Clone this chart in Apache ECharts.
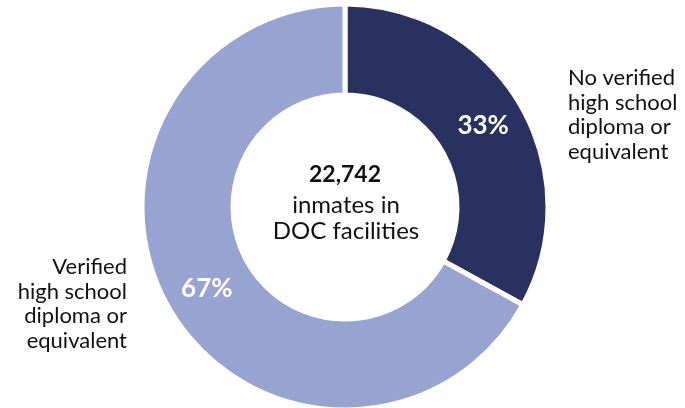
<!DOCTYPE html>
<html>
<head>
<meta charset="utf-8">
<script src="https://cdn.jsdelivr.net/npm/echarts@6/dist/echarts.min.js"></script>
<style>
  html, body { margin: 0; padding: 0; background: #ffffff; }
  #chart { width: 685px; height: 408px; }
</style>
</head>
<body>
<div id="chart"></div>
<script>
// Education status of people held in DOC facilities
const categories = ['No verified high school diploma or equivalent', 'Verified high school diploma or equivalent'];
const labelLines = [
  ['No verified', 'high school', 'diploma or', 'equivalent'],
  ['Verified', 'high school', 'diploma or', 'equivalent']
];
const percentages = [33, 67];
const sliceColors = ['#28315f', '#97a3d1'];
const totalInmates = '22,742';
const totalCaption = ['inmates in', 'DOC facilities'];

const FONT = 'Lato, "Open Sans", sans-serif';
const chart = echarts.init(document.getElementById('chart'), null, { renderer: 'canvas' });

chart.setOption({
  backgroundColor: '#ffffff',
  animation: false,
  series: [{
    type: 'pie',
    center: [345, 207],
    radius: [112, 203],
    startAngle: 90,
    clockwise: true,
    silent: true,
    itemStyle: { borderColor: '#ffffff', borderWidth: 5 },
    label: {
      show: true,
      position: 'inside',
      formatter: '{c}%',
      color: '#ffffff',
      fontFamily: FONT,
      fontWeight: 'bold',
      fontSize: 26
    },
    labelLine: { show: false },
    data: categories.map((name, i) => ({
      name: name,
      value: percentages[i],
      itemStyle: { color: sliceColors[i] }
    }))
  }],
  graphic: [
    {
      type: 'text',
      x: 345, y: 175,
      style: {
        text: totalInmates,
        font: 'bold 23px ' + FONT,
        fill: '#111111',
        textAlign: 'center',
        textVerticalAlign: 'middle'
      }
    },
    {
      type: 'text',
      x: 346, y: 218,
      style: {
        text: totalCaption.join('\n'),
        font: '24px ' + FONT,
        lineHeight: 26,
        fill: '#111111',
        textAlign: 'center',
        textVerticalAlign: 'middle'
      }
    },
    {
      type: 'text',
      x: 568, y: 115,
      style: {
        text: labelLines[0].join('\n'),
        font: '22px ' + FONT,
        lineHeight: 24.5,
        fill: '#111111',
        textAlign: 'left',
        textVerticalAlign: 'middle'
      }
    },
    {
      type: 'text',
      x: 127, y: 304,
      style: {
        text: labelLines[1].join('\n'),
        font: '22px ' + FONT,
        lineHeight: 24.5,
        fill: '#111111',
        textAlign: 'right',
        textVerticalAlign: 'middle'
      }
    }
  ]
});
</script>
</body>
</html>
